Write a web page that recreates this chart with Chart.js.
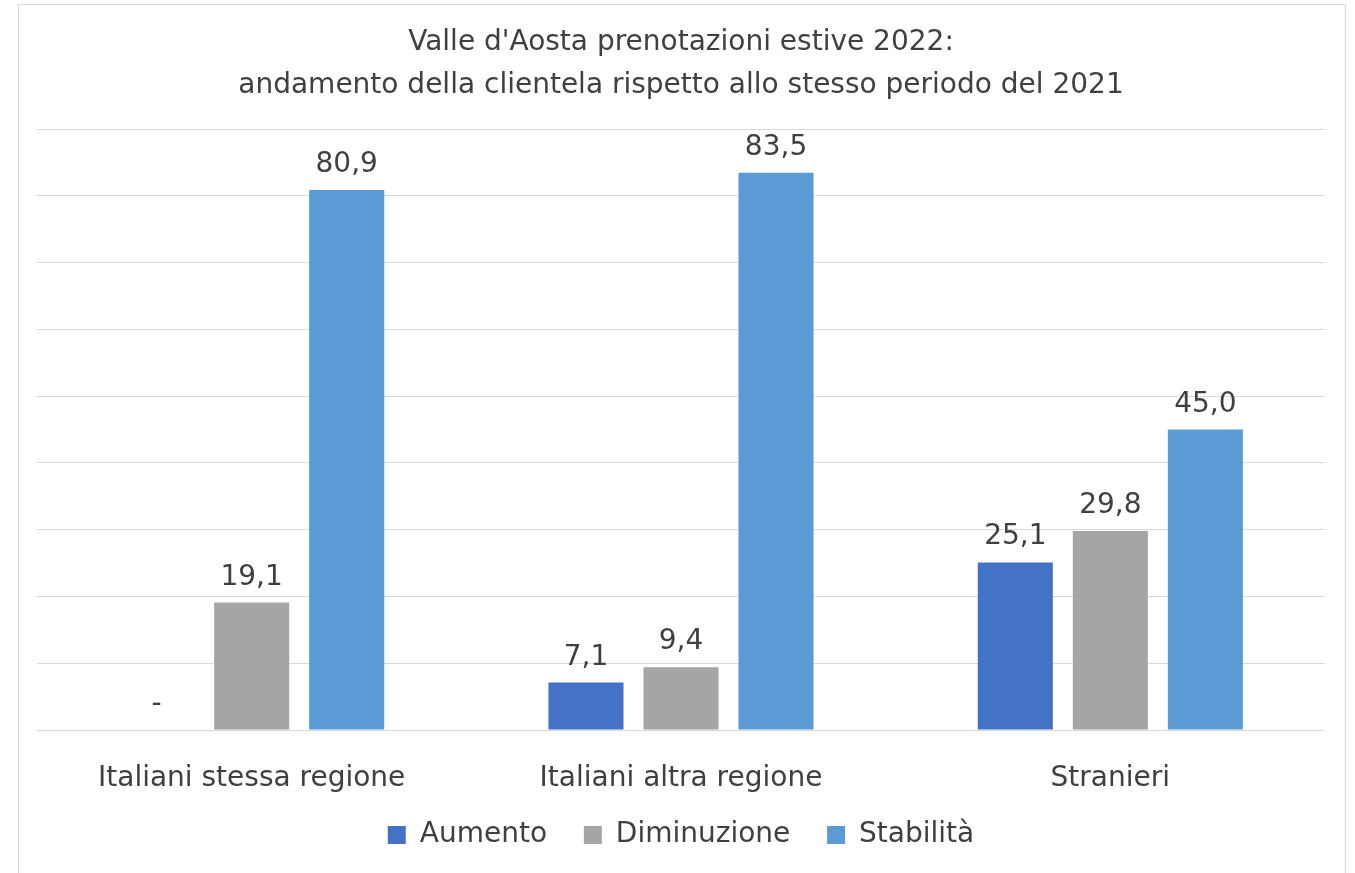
<!DOCTYPE html>
<html>
<head>
<meta charset="utf-8">
<script src="https://cdn.jsdelivr.net/npm/chart.js@4/dist/chart.umd.min.js"></script>
<style>
  body { margin: 0; background: #fff; }
  #box {
    position: absolute; left: 18px; top: 4px;
    width: 1326px; height: 880px;
    border: 1px solid #d9d9d9; background: #fff;
  }
  canvas { display: block; }
</style>
</head>
<body>
<div id="box"><canvas id="chart" width="1326" height="872"></canvas></div>
<script>
// categorie e serie
const categories = ['Italiani stessa regione', 'Italiani altra regione', 'Stranieri'];
const aumento = [0, 7.1, 25.1];
const diminuzione = [19.1, 9.4, 29.8];
const stabilita = [80.9, 83.5, 45.0];
const seriesNames = ['Aumento', 'Diminuzione', 'Stabilità'];
const titleLines = ["Valle d'Aosta prenotazioni estive 2022:", 'andamento della clientela rispetto allo stesso periodo del 2021'];

const FONT = '"DejaVu Sans", sans-serif';
const TEXT = '#404040';

// etichette sopra le barre
const valueLabels = {
  id: 'valueLabels',
  afterDatasetsDraw(chart) {
    const ctx = chart.ctx;
    ctx.save();
    ctx.font = '28px ' + FONT;
    ctx.fillStyle = TEXT;
    ctx.textAlign = 'center';
    ctx.textBaseline = 'alphabetic';
    chart.data.datasets.forEach((ds, i) => {
      const meta = chart.getDatasetMeta(i);
      meta.data.forEach((bar, j) => {
        const v = ds.data[j];
        const txt = v === 0 ? '-' : v.toFixed(1).replace('.', ',');
        ctx.fillText(txt, bar.x, bar.y - 18);
      });
    });
    ctx.restore();
  }
};

const myChart = new Chart(document.getElementById('chart'), {
  type: 'bar',
  data: {
    labels: categories,
    datasets: [
      { label: seriesNames[0], data: aumento, backgroundColor: '#4472C4' },
      { label: seriesNames[1], data: diminuzione, backgroundColor: '#A5A5A5' },
      { label: seriesNames[2], data: stabilita, backgroundColor: '#5B9BD5' }
    ]
  },
  options: {
    responsive: false,
    animation: false,
    layout: { padding: { left: 18, right: 20, top: 0, bottom: 18 } },
    datasets: {
      bar: { categoryPercentage: 0.664, barPercentage: 0.79 }
    },
    plugins: {
      title: {
        display: true,
        text: titleLines,
        color: TEXT,
        font: { family: FONT, size: 28, weight: 'normal', lineHeight: 1.54 },
        padding: { top: 16, bottom: 22 }
      },
      legend: {
        position: 'bottom',
        labels: {
          color: TEXT,
          font: { family: FONT, size: 28 },
          boxWidth: 18, boxHeight: 18,
          padding: 19,
          // un po' più di spazio tra le voci
          generateLabels(chart) {
            const items = Chart.defaults.plugins.legend.labels.generateLabels(chart);
            items.forEach((it, i) => { if (i < items.length - 1) it.text += '  '; });
            return items;
          }
        }
      },
      tooltip: { enabled: false }
    },
    scales: {
      x: {
        grid: { display: false },
        border: { display: false },
        ticks: { color: TEXT, font: { family: FONT, size: 28 }, padding: 24 },
        afterFit(scale) { scale.height = 72; }
      },
      y: {
        min: 0, max: 90,
        ticks: { display: false, stepSize: 10 },
        border: { display: false },
        grid: { color: '#d9d9d9', lineWidth: 1, drawTicks: false },
        afterFit(scale) { scale.width = 0; }
      }
    }
  },
  plugins: [valueLabels]
});
</script>
</body>
</html>
